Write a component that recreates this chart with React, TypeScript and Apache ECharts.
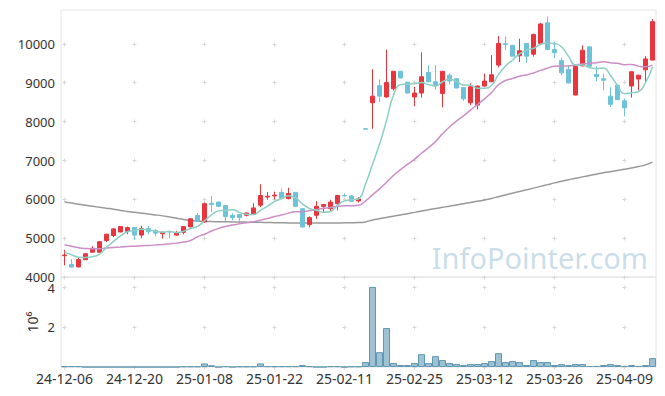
import React, { useEffect, useRef } from "react";
import * as echarts from "echarts";

const dates = [
  "24-12-06", "24-12-09", "24-12-10", "24-12-11", "24-12-12", "24-12-13", "24-12-16", "24-12-17", "24-12-18", "24-12-19",
  "24-12-20", "24-12-23", "24-12-24", "24-12-26", "24-12-27", "24-12-30", "25-01-02", "25-01-03", "25-01-06", "25-01-07",
  "25-01-08", "25-01-09", "25-01-10", "25-01-13", "25-01-14", "25-01-15", "25-01-16", "25-01-17", "25-01-20", "25-01-21",
  "25-01-22", "25-01-23", "25-01-24", "25-01-31", "25-02-03", "25-02-04", "25-02-05", "25-02-06", "25-02-07", "25-02-10",
  "25-02-11", "25-02-12", "25-02-13", "25-02-14", "25-02-17", "25-02-18", "25-02-19", "25-02-20", "25-02-21", "25-02-24",
  "25-02-25", "25-02-26", "25-02-27", "25-02-28", "25-03-04", "25-03-05", "25-03-06", "25-03-07", "25-03-10", "25-03-11",
  "25-03-12", "25-03-13", "25-03-14", "25-03-17", "25-03-18", "25-03-19", "25-03-20", "25-03-21", "25-03-24", "25-03-25",
  "25-03-26", "25-03-27", "25-03-28", "25-03-31", "25-04-01", "25-04-02", "25-04-03", "25-04-04", "25-04-07", "25-04-08",
  "25-04-09", "25-04-10", "25-04-11", "25-04-14", "25-04-15",
];

const opens = [
  4550, 4320, 4260, 4445, 4640, 4640, 4940, 5070, 5160, 5175,
  5275, 5080, 5245, 5200, 5115, 5170, 5080, 5150, 5290, 5585,
  5420, 5900, 5930, 5840, 5590, 5610, 5590, 5610, 5850, 6060,
  6090, 6180, 6020, 6180, 5760, 5350, 5590, 5820, 5760, 5890,
  6100, 6090, 5960, 7820, 8490, 8930, 8640, 8850, 9300, 9020,
  8640, 8740, 9270, 9030, 8730, 9200, 9110, 8880, 8490, 8430,
  8920, 9030, 9460, 10010, 9970, 9700, 10020, 9740, 10020, 10550,
  9860, 9575, 9350, 8690, 9440, 9930, 9220, 9110, 8660, 8940,
  8540, 8920, 9100, 9340, 9590,
];
const closes = [
  4565, 4255, 4450, 4600, 4740, 4910, 5100, 5240, 5300, 5275,
  5080, 5245, 5165, 5130, 5155, 5160, 5130, 5300, 5500, 5440,
  5890, 5870, 5820, 5560, 5530, 5530, 5650, 5780, 6100, 6080,
  6110, 6030, 6150, 5820, 5290, 5530, 5820, 5870, 5930, 6100,
  6090, 5950, 6010, 7810, 8660, 8660, 9010, 9300, 9130, 8740,
  8740, 9160, 9030, 8930, 9300, 9050, 8870, 8590, 8900, 8920,
  9050, 9210, 10020, 9990, 9690, 9830, 9690, 10250, 10520, 9860,
  9780, 9260, 9000, 9430, 9845, 9430, 9160, 9070, 8450, 8570,
  8360, 9290, 9200, 9620, 10580,
];
const lows = [
  4300, 4250, 4250, 4440, 4630, 4630, 4900, 5030, 5150, 5100,
  4960, 5000, 5100, 5045, 4990, 5000, 5060, 5100, 5280, 5420,
  5400, 5670, 5800, 5440, 5460, 5400, 5560, 5600, 5800, 5990,
  6000, 6000, 6000, 5810, 5280, 5280, 5500, 5670, 5690, 5720,
  6070, 5940, 5920, 7810, 7820, 8510, 8620, 8810, 9120, 8730,
  8400, 8620, 9020, 8830, 8370, 8960, 8860, 8540, 8430, 8320,
  8910, 9030, 9400, 9850, 9680, 9540, 9520, 9680, 10010, 9850,
  9640, 9200, 8990, 8680, 9430, 9420, 9040, 8810, 8380, 8560,
  8140, 8620, 8810, 9000, 9580,
];
const highs = [
  4700, 4460, 4495, 4620, 4790, 4930, 5120, 5260, 5310, 5300,
  5290, 5320, 5310, 5230, 5165, 5200, 5190, 5310, 5510, 5650,
  5920, 6090, 5940, 5850, 5640, 5620, 5660, 5900, 6390, 6190,
  6200, 6280, 6300, 6190, 5770, 5560, 5950, 5880, 5990, 6120,
  6150, 6110, 6060, 7820, 9350, 9090, 9860, 9310, 9310, 9030,
  8900, 9790, 9460, 9460, 9310, 9250, 9120, 8890, 8990, 8930,
  9240, 9720, 10210, 10200, 9980, 10140, 10030, 10270, 10550, 10710,
  10060, 9650, 9460, 9440, 9970, 9940, 9430, 9240, 8890, 8950,
  8600, 9300, 9210, 9690, 10645,
];
const volumes = [
  40000, 40000, 40000, 0, 0, 0, 0, 0, 0, 0,
  0, 0, 0, 0, 0, 0, 0, 30000, 30000, 30000,
  180000, 90000, 0, 40000, 0, 30000, 30000, 30000, 180000, 40000,
  40000, 40000, 40000, 40000, 100000, 40000, 0, 0, 40000, 40000,
  0, 30000, 30000, 250000, 4050000, 750000, 1970000, 200000, 100000, 100000,
  200000, 650000, 200000, 550000, 350000, 200000, 150000, 100000, 150000, 150000,
  200000, 300000, 700000, 250000, 300000, 250000, 100000, 350000, 250000, 250000,
  100000, 150000, 100000, 150000, 150000, 50000, 50000, 100000, 150000, 100000,
  50000, 100000, 50000, 100000, 450000,
];
// Moving-average values before enough closes are available
const ma5Head = [4640, 4572, 4511, 4505];
const ma20Head = [4830, 4790, 4755, 4735, 4727, 4730, 4745, 4758, 4770, 4783, 4795, 4805, 4813, 4825, 4839, 4855, 4873, 4900, 4940];
// Long moving average (gray line)
const maLong = [
  5930, 5905, 5877, 5850, 5822, 5797, 5772, 5748, 5715, 5690,
  5668, 5645, 5622, 5600, 5575, 5545, 5515, 5482, 5455, 5440,
  5432, 5428, 5425, 5422, 5420, 5418, 5415, 5412, 5408, 5404,
  5400, 5397, 5394, 5392, 5390, 5390, 5390, 5390, 5391, 5393,
  5395, 5398, 5402, 5420, 5470, 5500, 5535, 5565, 5600, 5632,
  5665, 5700, 5735, 5765, 5795, 5825, 5858, 5890, 5920, 5950,
  5985, 6025, 6070, 6115, 6160, 6205, 6250, 6290, 6335, 6380,
  6425, 6465, 6505, 6545, 6580, 6615, 6650, 6685, 6715, 6745,
  6775, 6810, 6845, 6890, 6960,
];
const priceTicks = [4000, 5000, 6000, 7000, 8000, 9000, 10000];
const volumeTicks = [0, 2000000, 4000000];
const labelIndexes = [0, 10, 20, 30, 40, 50, 60, 70, 80];

function movingAverage(n: number, head: number[]) {
  return closes.map((_, i) => {
    if (i < n - 1) return head[i];
    let s = 0;
    for (let k = i - n + 1; k <= i; k++) s += closes[k];
    return Math.round(s / n);
  });
}

const FONT = "'Noto Sans', 'Open Sans', sans-serif";
const UP = "#e8363e";
const DOWN = "#6dc2da";

export default function App() {
  const ref = useRef<HTMLDivElement>(null);
  useEffect(() => {
    const chart = echarts.init(ref.current!, null, { renderer: "svg" });
    const candle = opens.map((o, i) => [o, closes[i], lows[i], highs[i]]);
    const option: any = {
      animation: false,
      backgroundColor: "#ffffff",
      textStyle: { fontFamily: FONT },
      grid: [
        { left: 61, width: 595, top: 10, height: 267, show: true, borderColor: "#e4e4e4", borderWidth: 1, backgroundColor: "transparent" },
        { left: 61, width: 595, top: 277, height: 90, show: true, borderColor: "#e4e4e4", borderWidth: 1, backgroundColor: "transparent" },
      ],
      xAxis: [
        {
          type: "category", gridIndex: 0, data: dates, boundaryGap: true,
          axisLine: { show: false }, axisTick: { show: false }, axisLabel: { show: false }, splitLine: { show: false },
        },
        {
          type: "category", gridIndex: 1, data: dates, boundaryGap: true,
          axisLine: { show: false }, axisTick: { show: false }, splitLine: { show: false },
          axisLabel: { interval: 9, color: "#333", fontSize: 14, margin: 4, fontFamily: FONT },
        },
      ],
      yAxis: [
        {
          type: "value", gridIndex: 0, min: 4000, max: 10880, interval: 1000,
          axisLine: { show: false }, axisTick: { show: false }, splitLine: { show: false },
          axisLabel: {
            color: "#333", fontSize: 13, lineHeight: 10, margin: 6, fontFamily: FONT, showMaxLabel: false,
            formatter: (v: number) => (v % 1000 === 0 ? String(v) : ""),
          },
        },
        {
          type: "value", gridIndex: 1, min: 0, max: 4550000, interval: 2000000,
          axisLine: { show: false }, axisTick: { show: false }, splitLine: { show: false },
          axisLabel: {
            color: "#333", fontSize: 13, lineHeight: 10, margin: 6, fontFamily: FONT, showMaxLabel: false, showMinLabel: false,
            formatter: (v: number) => (v > 0 && v % 2000000 === 0 ? String(v / 1000000) : ""),
          },
        },
      ],
      series: [
        {
          type: "line", name: "MA120", xAxisIndex: 0, yAxisIndex: 0, data: maLong, smooth: true,
          symbol: "none", lineStyle: { color: "#999999", width: 1.5 }, z: 1,
        },
        {
          type: "candlestick", xAxisIndex: 0, yAxisIndex: 0, data: candle, barWidth: 5,
          itemStyle: { color: UP, color0: DOWN, borderColor: UP, borderColor0: DOWN, borderWidth: 1 },
          z: 2,
        },
        {
          type: "line", name: "MA20", xAxisIndex: 0, yAxisIndex: 0, data: movingAverage(20, ma20Head), smooth: true,
          symbol: "none", lineStyle: { color: "#cc8ec6", width: 1.5 }, z: 3,
        },
        {
          type: "line", name: "MA5", xAxisIndex: 0, yAxisIndex: 0, data: movingAverage(5, ma5Head), smooth: true,
          symbol: "none", lineStyle: { color: "#8dcfc5", width: 1.5 }, z: 4,
        },
        {
          type: "bar", xAxisIndex: 1, yAxisIndex: 1, data: volumes, barCategoryGap: "0%",
          itemStyle: { color: "rgba(120,170,195,0.72)", borderColor: "#6098b2", borderWidth: 1 },
        },
      ],
    };
    chart.setOption(option);

    const crosses: any[] = [];
    const snap = (v: number) => Math.round(v - 0.5) + 0.5;
    const addCross = (x: number, y: number) => {
      const cx = snap(x);
      const cy = snap(y);
      crosses.push({ type: "line", silent: true, z: 0, shape: { x1: cx - 2, y1: cy, x2: cx + 2, y2: cy }, style: { stroke: "#d8d8d8", lineWidth: 1 } });
      crosses.push({ type: "line", silent: true, z: 0, shape: { x1: cx, y1: cy - 2, x2: cx, y2: cy + 2 }, style: { stroke: "#d8d8d8", lineWidth: 1 } });
    };
    labelIndexes.forEach((idx) => {
      priceTicks.forEach((v) => {
        const p = chart.convertToPixel({ xAxisIndex: 0, yAxisIndex: 0 }, [idx, v]) as number[];
        addCross(p[0], p[1]);
      });
      volumeTicks.forEach((v) => {
        const p = chart.convertToPixel({ xAxisIndex: 1, yAxisIndex: 1 }, [idx, v]) as number[];
        addCross(p[0], p[1]);
      });
    });

    chart.setOption({
      graphic: [
        {
          type: "text", silent: true, z: 0, x: 648, y: 257,
          style: {
            text: "InfoPointer.com", fill: "rgba(150,188,210,0.5)", font: `29px ${FONT}`,
            textAlign: "right", textVerticalAlign: "middle",
          },
        },
        {
          type: "text", silent: true, z: 5, x: 32, y: 322, rotation: Math.PI / 2,
          style: { text: "10⁶", fill: "#333", font: `14px ${FONT}`, textAlign: "center", textVerticalAlign: "middle" },
        },
        ...crosses,
      ],
    });
    return () => chart.dispose();
  }, []);
  return <div ref={ref} style={{ position: "absolute", left: 0, top: 0, width: 665, height: 396, background: "#fff" }} />;
}
